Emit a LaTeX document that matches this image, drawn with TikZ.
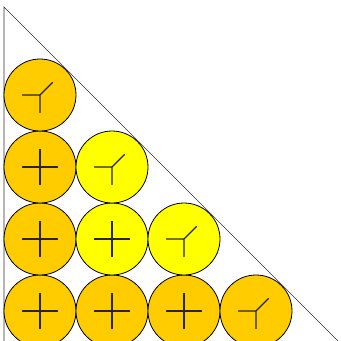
\documentclass[tikz,border=0pt]{standalone}
\usetikzlibrary{positioning}
\definecolor{goldball}{RGB}{255,204,0}
\definecolor{yellowball}{RGB}{255,255,0}
\begin{document}
\begin{tikzpicture}[x=1pt, y=1pt,
    ball/.style={circle, draw=black, line width=0.8pt, minimum size=72pt,
                 inner sep=0pt},
    wall/.style={line width=0.7pt, draw=black!80},
    tick/.style={line width=1.1pt, draw=black!85}
]
\useasboundingbox (0,0) rectangle (341,341);
\clip (0,0) rectangle (341,341);
% the triangle
\draw[wall] (4,334) -- (4,-6) -- (344,-6) -- cycle;
% the balls, row 0 at the bottom
\foreach \row in {0,...,3}{
  \pgfmathtruncatemacro{\last}{3-\row}
  \foreach \col in {0,...,\last}{
    \ifnum\row=0 \def\fillcol{goldball}\else
      \ifnum\col=0 \def\fillcol{goldball}\else\def\fillcol{yellowball}\fi\fi
    \node[ball, fill=\fillcol] (b\row\col) at (40+72*\col, 30+72*\row) {};
    \ifnum\col=\last
      \draw[tick] (b\row\col.center) -- ++(-18,0)
                  (b\row\col.center) -- ++(0,-18)
                  (b\row\col.center) -- ++(45:18);
    \else
      \draw[tick] ([xshift=-18pt]b\row\col.center) -- ([xshift=18pt]b\row\col.center)
                  ([yshift=-18pt]b\row\col.center) -- ([yshift=18pt]b\row\col.center);
    \fi
  }
}
\end{tikzpicture}
\end{document}
